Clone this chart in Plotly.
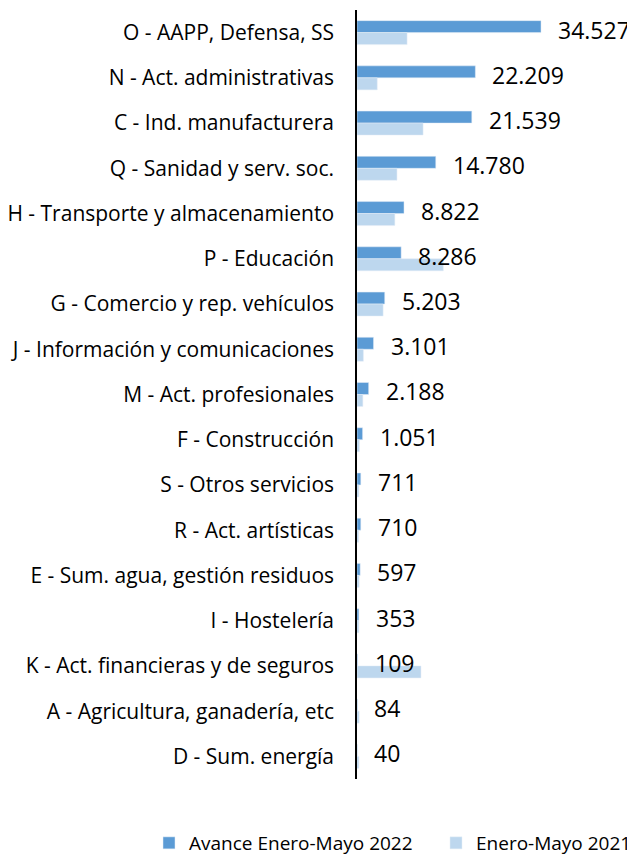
import plotly.graph_objects as go

# sectores (orden de arriba a abajo)
sectores = [
    "O - AAPP, Defensa, SS",
    "N - Act. administrativas",
    "C - Ind. manufacturera",
    "Q - Sanidad y serv. soc.",
    "H - Transporte y almacenamiento",
    "P - Educación",
    "G - Comercio y rep. vehículos",
    "J - Información y comunicaciones",
    "M - Act. profesionales",
    "F - Construcción",
    "S - Otros servicios",
    "R - Act. artísticas",
    "E - Sum. agua, gestión residuos",
    "I - Hostelería",
    "K - Act. financieras y de seguros",
    "A - Agricultura, ganadería, etc",
    "D - Sum. energía",
]
avance_2022 = [34527, 22209, 21539, 14780, 8822, 8286, 5203, 3101, 2188,
               1051, 711, 710, 597, 353, 109, 84, 40]
enero_mayo_2021 = [9400, 3800, 12400, 7500, 7100, 16200, 4900, 1200, 1100,
                   450, 350, 300, 400, 350, 12000, 400, 350]

etiquetas = [f"{v:,}".replace(",", ".") for v in avance_2022]

fuente = "Open Sans"
W, H = 627, 847  # la página añade 8px de margen

fig = go.Figure()
fig.add_trace(go.Bar(
    y=sectores, x=avance_2022, orientation="h",
    name="Avance Enero-Mayo 2022",
    marker_color="#5B9BD5",
    legend="legend",
))
fig.add_trace(go.Bar(
    y=sectores, x=enero_mayo_2021, orientation="h",
    name="Enero-Mayo 2021",
    marker_color="#BDD7EE",
    legend="legend2",
))

for s, v, t in zip(sectores, avance_2022, etiquetas):
    fig.add_annotation(
        x=v, y=s, text=t, showarrow=False,
        xanchor="left", xshift=15, yshift=3,
        font=dict(family=fuente, size=23, color="#000000"),
    )

leyenda = dict(
    orientation="h",
    y=1 - 835 / H, yanchor="middle",
    xanchor="left",
    font=dict(family=fuente, size=19, color="#000000"),
    bgcolor="rgba(0,0,0,0)",
)

fig.update_layout(
    width=W, height=H,
    margin=dict(l=0, r=0, t=0, b=0, autoexpand=False),
    paper_bgcolor="white",
    plot_bgcolor="white",
    barmode="group",
    bargap=0.47,
    bargroupgap=0,
    font=dict(family=fuente, size=21, color="#000000"),
    xaxis=dict(
        domain=[349 / W, 1],
        range=[0, 52160],
        showgrid=False, zeroline=False,
        showticklabels=False, showline=False,
    ),
    yaxis=dict(
        domain=[76 / H, 1 - 2 / H],
        autorange="reversed",
        showgrid=False, zeroline=False,
        showline=True, linecolor="#000000", linewidth=1.5,
        ticks="", ticklabelstandoff=17,
        tickfont=dict(family=fuente, size=21),
    ),
    showlegend=True,
    legend=dict(leyenda, x=141 / W),
    legend2=dict(leyenda, x=428 / W),
)

fig.write_html("out.html")
